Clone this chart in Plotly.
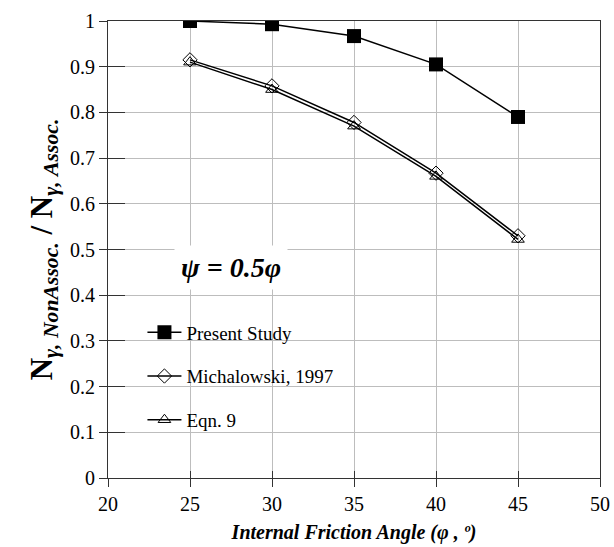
import plotly.graph_objects as go

angles = [25, 30, 35, 40, 45]
present_study = [1.0, 0.993, 0.967, 0.905, 0.79]
michalowski_1997 = [0.915, 0.858, 0.778, 0.667, 0.53]
eqn9 = [0.91, 0.85, 0.77, 0.66, 0.522]

x_ticks = [20, 25, 30, 35, 40, 45, 50]
y_ticks = [0, 0.1, 0.2, 0.3, 0.4, 0.5, 0.6, 0.7, 0.8, 0.9, 1]
y_tick_text = ["0", "0.1", "0.2", "0.3", "0.4", "0.5", "0.6", "0.7", "0.8", "0.9", "1"]

FONT = "Liberation Serif"

fig = go.Figure()
fig.add_trace(go.Scatter(
    x=angles, y=present_study, name="Present Study", mode="lines+markers",
    line=dict(color="black", width=1.5),
    marker=dict(symbol="square", size=14, color="black"),
    legendgroup="a"))
fig.add_trace(go.Scatter(
    x=angles, y=michalowski_1997, name="Michalowski, 1997", mode="lines+markers",
    line=dict(color="black", width=1.5),
    marker=dict(symbol="diamond-open", size=11, color="black", line=dict(width=1)),
    legendgroup="b"))
fig.add_trace(go.Scatter(
    x=angles, y=eqn9, name="Eqn. 9", mode="lines+markers",
    line=dict(color="black", width=1.5),
    marker=dict(symbol="triangle-up-open", size=11, color="black", line=dict(width=1)),
    legendgroup="c"))

fig.add_annotation(
    x=27.5, y=0.46, xref="x", yref="y",
    text="<b><i>ψ = 0.5φ</i></b>", showarrow=False,
    font=dict(family=FONT, size=28, color="black"),
    bgcolor="white", borderpad=6)

# white backdrop of the legend area (hides gridlines like the original)
fig.add_shape(type="rect", xref="paper", yref="paper",
              x0=0.035, x1=0.54, y0=0.072, y1=0.363,
              fillcolor="white", line=dict(width=0), layer="between")

axis_common = dict(showline=True, linecolor="#333333", linewidth=1.2, mirror=True,
                   ticks="outside", ticklen=8, tickcolor="#333333",
                   tickfont=dict(family=FONT, size=20, color="black"),
                   zeroline=False, automargin=False,
                   showgrid=True, gridcolor="#bdbdbd", gridwidth=1)

fig.update_layout(
    width=614, height=547,
    margin=dict(l=108, r=14, t=21, b=69, autoexpand=False),
    paper_bgcolor="white", plot_bgcolor="white",
    font=dict(family=FONT, size=18, color="black"),
    showlegend=True,
    legend=dict(x=0.07, y=0.36, xanchor="left", yanchor="top",
                bgcolor="rgba(255,255,255,0)", borderwidth=0,
                font=dict(family=FONT, size=19, color="black"),
                tracegroupgap=16, itemwidth=34),
    xaxis=dict(range=[20, 50], tickvals=x_ticks, **axis_common,
               title=dict(text="<b><i>Internal Friction Angle (φ , º)</i></b>",
                          font=dict(family=FONT, size=20), standoff=10)),
    yaxis=dict(range=[0, 1], tickvals=y_ticks, ticktext=y_tick_text, **axis_common,
               title=dict(text="<b>N<sub><i>γ, NonAssoc.</i></sub> / N<sub><i>γ, Assoc.</i></sub></b>",
                          font=dict(family=FONT, size=31), standoff=8)),
    xaxis2=dict(range=[20, 50], tickvals=x_ticks, overlaying="x", matches="x",
                showticklabels=False, ticks="inside", ticklen=7, tickcolor="#333333",
                showgrid=False, showline=False, zeroline=False),
    yaxis2=dict(range=[0, 1], tickvals=y_ticks, overlaying="y", matches="y",
                showticklabels=False, ticks="inside", ticklen=17, tickcolor="#333333",
                showgrid=False, showline=False, zeroline=False),
)
fig.add_trace(go.Scatter(x=[None], y=[None], xaxis="x2", yaxis="y2",
                         showlegend=False, hoverinfo="skip"))

fig.write_html("out.html")
